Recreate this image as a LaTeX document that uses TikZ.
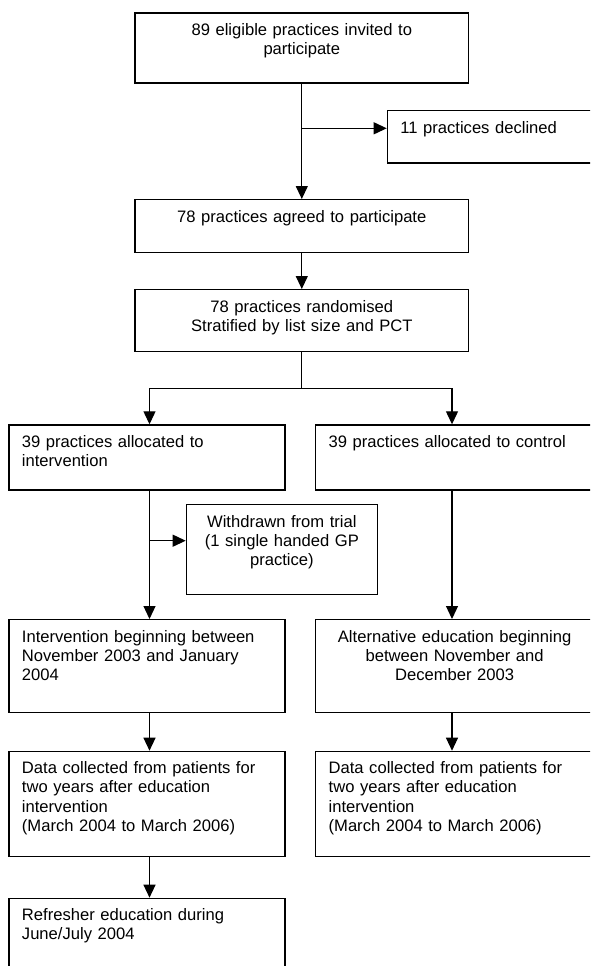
\documentclass[tikz,border=0pt]{standalone}
\usepackage{fontspec}
\setmainfont{Liberation Sans}
\usetikzlibrary{arrows.meta}
\tikzset{box/.style={draw, line width=1.3pt, anchor=north west, inner xsep=13pt, inner ysep=0pt, text height=22.5pt, font=\fontsize{16.6}{19.1}\selectfont}}
\tikzset{lbox/.style={box, align=left}, cbox/.style={box, align=center}}
\tikzset{flow/.style={line width=1.2pt, -{Triangle[length=13pt,width=12pt]}}, link/.style={line width=1.2pt}}

\begin{document}
\begin{tikzpicture}[x=1pt, y=-1pt]
	\clip (0,0) rectangle (590,966);
	% enrolment
	\node[cbox, text width=307.7pt, text depth=47.5pt] (invite) at (134.3,12.3) {89 eligible practices invited to\\participate};
	\node[lbox, text width=186pt, text depth=29.8pt] (declined) at (386.7,110) {11 practices declined};
	\node[cbox, text width=307.7pt, text depth=30.2pt] (agreed) at (134.3,199) {78 practices agreed to participate};
	\node[cbox, text width=307.7pt, text depth=39.2pt] (random) at (134.3,289) {78 practices randomised\\Stratified by list size and PCT};
	% allocation
	\node[lbox, text width=250pt, text depth=42.5pt] (allocL) at (8.3,424.3) {39 practices allocated to\\intervention};
	\node[lbox, text width=252pt, text depth=42.5pt] (allocR) at (315,424.3) {39 practices allocated to control};
	\node[cbox, text width=165pt, text depth=67.5pt] (withdrawn) at (185.7,504) {Withdrawn from trial\\(1 single handed GP\\practice)};
	% education
	\node[lbox, text width=250pt, text depth=70.2pt] (beginL) at (8.3,619) {Intervention beginning between\\November 2003 and January\\2004};
	\node[cbox, text width=252pt, text depth=70.2pt] (beginR) at (315,619) {Alternative education beginning\\between November and\\December 2003};
	% follow up
	\node[lbox, text width=250pt, text depth=82.8pt] (dataL) at (8.3,750.7) {Data collected from patients for\\two years after education\\intervention\\(March 2004 to March 2006)};
	\node[lbox, text width=252pt, text depth=82.8pt] (dataR) at (315,750.7) {Data collected from patients for\\two years after education\\intervention\\(March 2004 to March 2006)};
	\node[lbox, text width=250pt, text depth=57.5pt] (refresh) at (8.3,897.7) {Refresher education during\\June/July 2004};

	\coordinate (colL) at (149.5,0);
	\coordinate (colR) at (452,0);
	\coordinate (split1) at (301.1,128.3);
	\coordinate (split2) at (149.5,540.7);

	\draw[flow] (invite.south) -- (agreed.north);
	\draw[flow] (split1) -- (split1 -| declined.west);
	\draw[flow] (agreed.south) -- (random.north);
	\draw[link] (random.south) -- ++(0,36.6) coordinate (fork);
	\draw[flow] (fork) -| (allocL.north -| colL);
	\draw[flow] (fork) -| (allocR.north -| colR);
	\draw[flow] (allocL.south -| colL) -- (beginL.north -| colL);
	\draw[flow] (split2) -- (split2 -| withdrawn.west);
	\draw[flow] (allocR.south -| colR) -- (beginR.north -| colR);
	\draw[flow] (beginL.south -| colL) -- (dataL.north -| colL);
	\draw[flow] (beginR.south -| colR) -- (dataR.north -| colR);
	\draw[flow] (dataL.south -| colL) -- (refresh.north -| colL);
\end{tikzpicture}
\end{document}
